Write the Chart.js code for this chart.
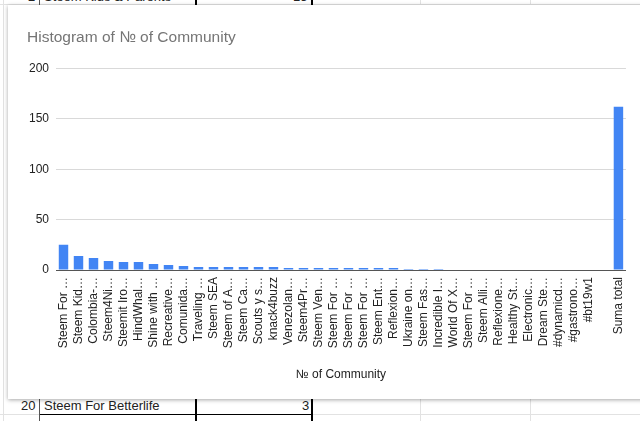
<!DOCTYPE html>
<html>
<head>
<meta charset="utf-8">
<script src="https://cdn.jsdelivr.net/npm/chart.js@4"></script>
<style>
  body { margin: 0; width: 640px; height: 421px; overflow: hidden; position: relative; background: #fff; font-family: "Liberation Sans", Arial, sans-serif; }
  .vl { position: absolute; width: 1px; background: #e2e2e2; }
  .hl { position: absolute; height: 1px; background: #e2e2e2; }
  .cell { position: absolute; font-size: 13px; color: #222; line-height: 16px; white-space: nowrap; }
  #card { position: absolute; left: 8px; top: 5px; width: 640px; height: 394px; background: #fff; box-shadow: 0 1px 4px rgba(0,0,0,0.35); }
  #chart { position: absolute; left: 0; top: 0; }
</style>
</head>
<body>
<!-- spreadsheet behind the chart -->
<div class="hl" style="left:0;top:4px;width:640px;"></div>
<div class="hl" style="left:0;top:414px;width:640px;"></div>
<div class="hl" style="left:39px;top:414px;width:273px;background:#000;"></div>
<div class="vl" style="left:3px;top:0;height:421px;"></div>
<div class="vl" style="left:39px;top:0;height:421px;background:#555;"></div>
<div class="vl" style="left:195px;top:0;height:421px;width:2px;background:#000;"></div>
<div class="vl" style="left:311px;top:0;height:421px;width:2px;background:#000;"></div>
<div class="vl" style="left:420px;top:0;height:421px;"></div>
<div class="vl" style="left:530px;top:0;height:421px;"></div>
<div class="cell" style="left:28px;top:-11px;">2</div>
<div class="cell" style="left:44px;top:-11px;">Steem Kids &amp; Parents</div>
<div class="cell" style="left:293px;top:-11px;">15</div>
<div class="cell" style="left:21px;top:398px;">20</div>
<div class="cell" style="left:44px;top:398px;">Steem For Betterlife</div>
<div class="cell" style="left:302px;top:398px;">3</div>

<div id="card"><canvas id="chart" width="632" height="394"></canvas></div>

<script>
const communities = ["Steem For …", "Steem Kid…", "Colombia-…", "Steem4Ni…", "Steemit Iro…", "HindWhal…",
  "Shine with …", "Recreative…", "Comunida…", "Traveling …", "Steem SEA", "Steem of A…", "Steem Ca…",
  "Scouts y s…", "knack4buzz", "Venezolan…", "Steem4Pr…", "Steem Ven…", "Steem For …", "Steem For …",
  "Steem For …", "Steem Ent…", "Reflexion…", "Ukraine on…", "Steem Fas…", "Incredible I…", "World Of X…",
  "Steem For …", "Steem Alli…", "Reflexione…", "Healthy St…", "Electronic…", "Dream Ste…", "#dynamicd…",
  "#gastrono…", "#bt19w1", "", "Suma total"];
const counts = [25, 14, 12, 9, 8, 8, 6, 5, 4, 3, 3, 3, 3, 3, 3, 2, 2, 2, 2, 2,
  2, 2, 2, 1, 1, 1, 0, 0, 0, 0, 0, 0, 0, 0, 0, 0, 0, 162];
const yTicks = [0, 50, 100, 150, 200];

const chartTitle = "Histogram of № of Community";
const axisTitle = "№ of Community";
const fontFamily = '"Liberation Sans", Arial, sans-serif';

new Chart(document.getElementById("chart"), {
  type: "bar",
  data: {
    labels: communities,
    datasets: [
      {
        data: counts,
        backgroundColor: "#4285f4",
        borderWidth: 0,
        barPercentage: 0.63,
        categoryPercentage: 1,
      },
    ],
  },
  options: {
    responsive: false,
    animation: false,
    layout: { padding: { left: 19, right: 12, top: 0, bottom: 0 } },
    plugins: {
      legend: { display: false },
      tooltip: { enabled: false },
      title: {
        display: true,
        text: chartTitle,
        align: "start",
        color: "#757575",
        font: { family: fontFamily, size: 15.5, weight: "normal" },
        padding: { top: 23, bottom: 22 },
      },
    },
    scales: {
      x: {
        grid: { display: false, drawTicks: false },
        border: { display: true, color: "#555" },
        ticks: {
          autoSkip: false,
          minRotation: 90,
          maxRotation: 90,
          padding: 7,
          color: "#222",
          font: { family: fontFamily, size: 12 },
        },
        title: {
          display: true,
          text: axisTitle,
          color: "#222",
          font: { family: fontFamily, size: 12 },
          padding: { top: 17, bottom: 17 },
        },
        afterFit: function (scale) {
          scale.height = 129;
        },
      },
      y: {
        min: 0,
        max: 200,
        afterBuildTicks: function (scale) {
          scale.ticks = yTicks.map(function (v) { return { value: v }; });
        },
        grid: { color: "#d9d9d9", drawTicks: false },
        border: { display: false },
        ticks: {
          padding: 7,
          color: "#222",
          font: { family: fontFamily, size: 12 },
        },
        afterFit: function (scale) {
          scale.width = 29;
        },
      },
    },
  },
});
</script>
</body>
</html>
